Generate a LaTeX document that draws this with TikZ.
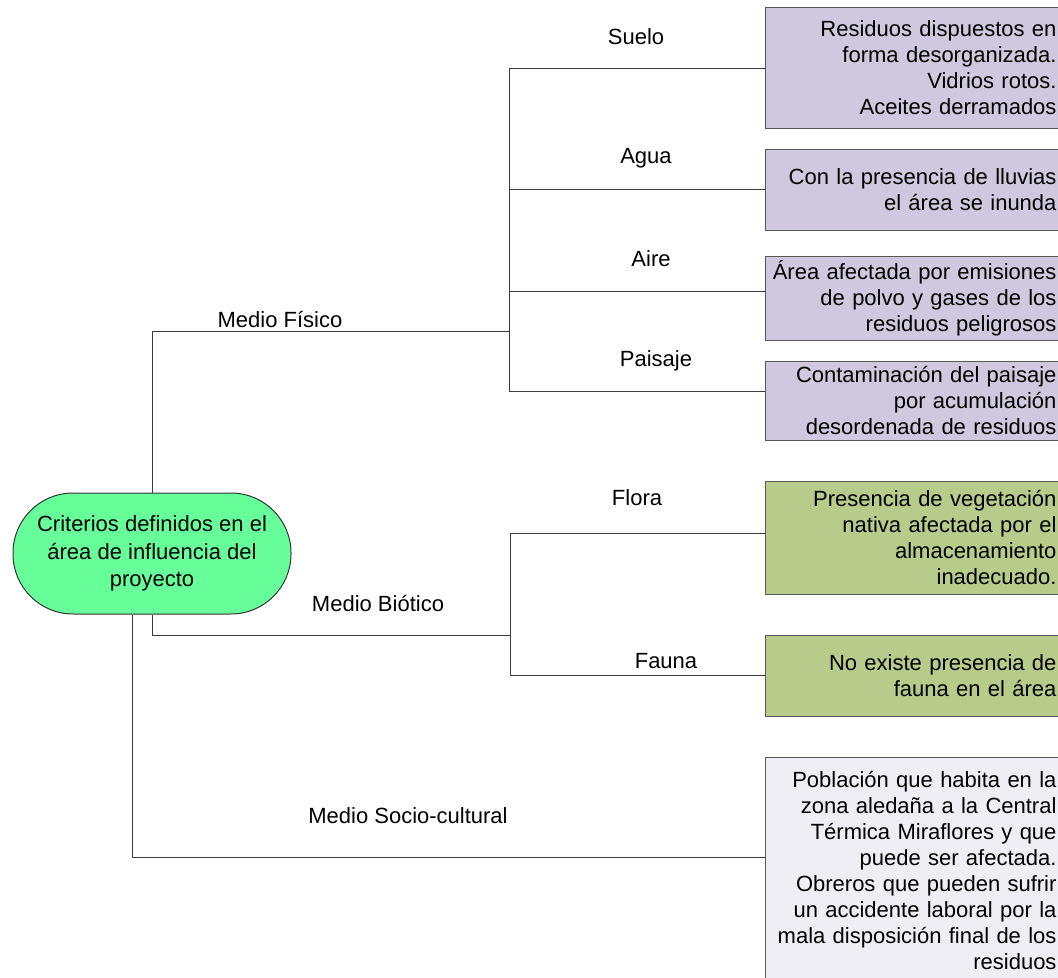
\documentclass[tikz,border=0pt]{standalone}
\usepackage{fontspec}
\setmainfont{Liberation Sans}
\definecolor{raizverde}{RGB}{102,255,153}
\definecolor{fisicolila}{RGB}{208,200,222}
\definecolor{bioverde}{RGB}{183,203,138}
\definecolor{sociogris}{RGB}{240,238,245}
\definecolor{linea}{RGB}{60,60,60}

\tikzset{every picture/.style={line width=0.75pt}}
\tikzset{
  conector/.style={draw=linea},
  etiqueta/.style={font=\fontsize{16.5}{19.5}\selectfont, inner sep=0pt},
  caja/.style={draw=black!65, anchor=west, align=right, inner xsep=3pt,
    text width=215.25pt, minimum width=221.25pt,
    font=\fontsize{16.5}{19.5}\selectfont},
  cajafisica/.style={caja, fill=fisicolila},
  cajabiotica/.style={caja, fill=bioverde},
  cajasocial/.style={caja, fill=sociogris}
}

\begin{document}
\begin{tikzpicture}[x=0.75pt,y=0.75pt,yscale=-1,xscale=1]
\useasboundingbox (0,0) rectangle (1058,978);

% Nodo raiz
\node [draw=black!80, fill=raizverde, rounded corners=45pt, minimum width=208.5pt, minimum height=90.75pt, align=center, font=\fontsize{16.5}{20.5}\selectfont] (raiz) at (152,553.5) {Criterios definidos en el\\área de influencia del\\proyecto};

% Cajas medio fisico
\node [cajafisica, minimum height=90.75pt] (suelobox) at (765,67.5) {Residuos dispuestos en\\forma desorganizada.\\Vidrios rotos.\\Aceites derramados};
\node [cajafisica, minimum height=60.75pt] (aguabox) at (765,189.5) {Con la presencia de lluvias\\el área se inunda};
\node [cajafisica, minimum height=60.75pt] (airebox) at (765,298.5) {Área afectada por emisiones\\de polvo y gases de los\\residuos peligrosos};
\node [cajafisica, minimum height=59.25pt] (paisajebox) at (765,400.5) {Contaminación del paisaje\\por acumulación\\desordenada de residuos};
% Cajas medio biotico
\node [cajabiotica, minimum height=84.75pt] (florabox) at (765,537.5) {Presencia de vegetación\\nativa afectada por el\\almacenamiento\\inadecuado.};
\node [cajabiotica, minimum height=60.75pt] (faunabox) at (765,675.5) {No existe presencia de\\fauna en el área};
% Caja medio socio-cultural
\node [cajasocial, anchor=north west, minimum height=169.5pt] (sociobox) at (765,757) {Población que habita en la\\zona aledaña a la Central\\Térmica Miraflores y que\\puede ser afectada.\\Obreros que pueden sufrir\\un accidente laboral por la\\mala disposición final de los\\residuos};

% Puntos de ramificacion
\coordinate (fisico) at (509,331);
\coordinate (suelo) at (509,68);
\coordinate (agua) at (509,189);
\coordinate (aire) at (509,291);
\coordinate (paisaje) at (509,391);
\coordinate (biotico) at (510,635);
\coordinate (flora) at (510,533);
\coordinate (fauna) at (510,675);
\coordinate (socio) at (765,857);

% Conectores
\draw [conector] (raiz.north) |- (fisico);
\draw [conector] (suelo) -- (paisaje);
\draw [conector] (suelo) -- (suelo -| suelobox.west);
\draw [conector] (agua) -- (agua -| aguabox.west);
\draw [conector] (aire) -- (aire -| airebox.west);
\draw [conector] (paisaje) -- (paisaje -| paisajebox.west);
\draw [conector] (raiz.south) |- (biotico);
\draw [conector] (flora) -- (fauna);
\draw [conector] (flora) -- (flora -| florabox.west);
\draw [conector] (fauna) -- (fauna -| faunabox.west);
\draw [conector] ([xshift=-15pt]raiz.south) |- (socio);

% Etiquetas
\node [etiqueta] (lfisico) at (280,320) {Medio Físico};
\node [etiqueta] (lsuelo) at (636,37) {Suelo};
\node [etiqueta] (lagua) at (646,158) {Agua};
\node [etiqueta] (laire) at (651,259) {Aire};
\node [etiqueta] (lpaisaje) at (656,361) {Paisaje};
\node [etiqueta] (lbiotico) at (378,604) {Medio Biótico};
\node [etiqueta] (lflora) at (637,498) {Flora};
\node [etiqueta] (lfauna) at (666,661) {Fauna};
\node [etiqueta] (lsocio) at (408,816) {Medio Socio-cultural};

\end{tikzpicture}
\end{document}
